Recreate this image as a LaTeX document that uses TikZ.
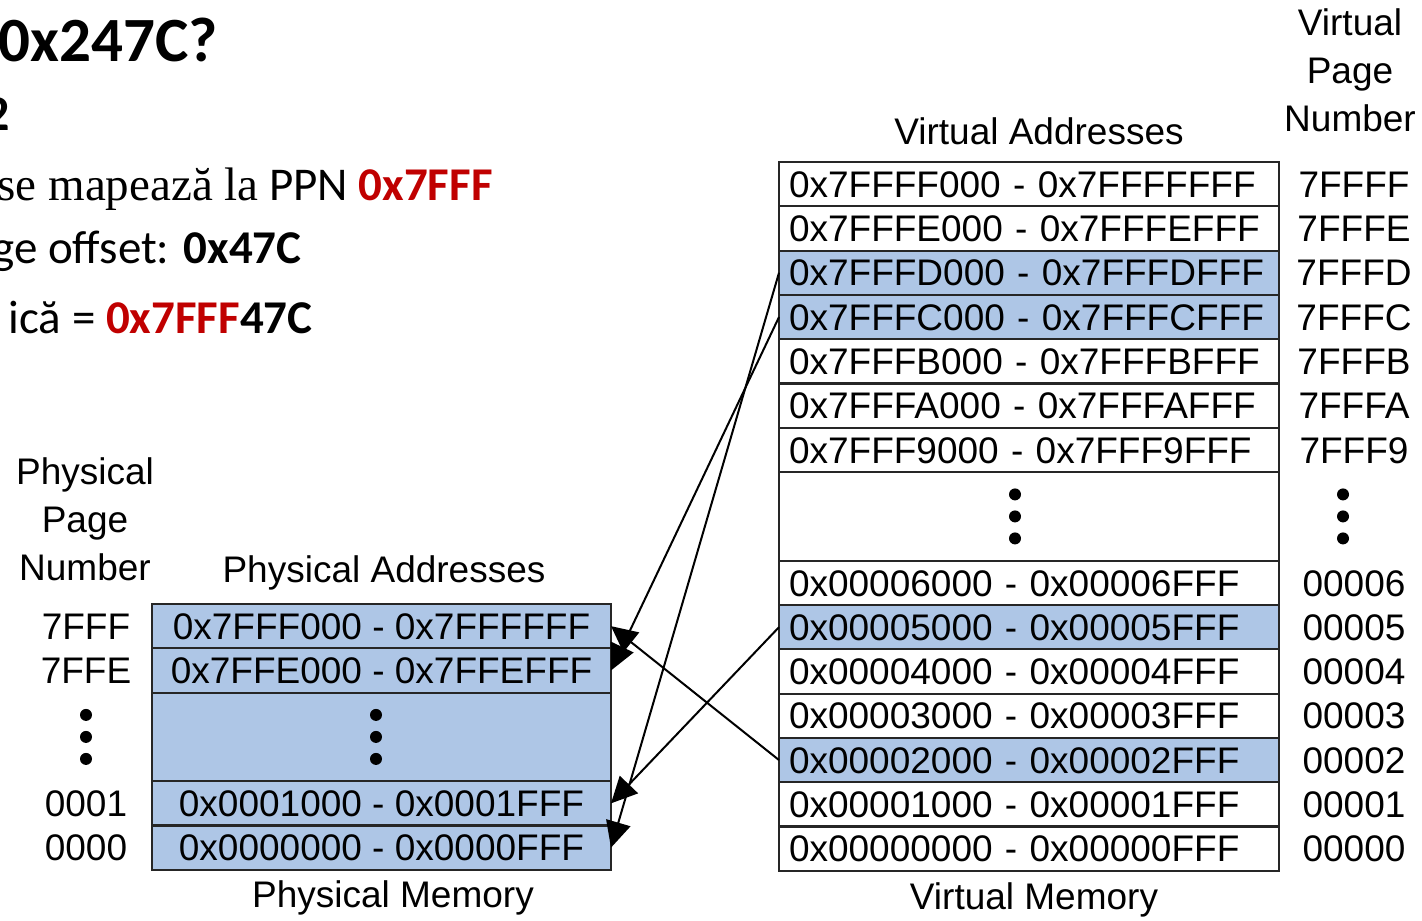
\documentclass[tikz,border=0pt]{standalone}
\usepackage{fontspec}
\setmainfont{Liberation Sans}
\newfontfamily\slidefont{Carlito}
\newfontfamily\slideserif{Liberation Serif}
\usepackage{tikz}
\usetikzlibrary{positioning,arrows.meta}

\definecolor{pageblue}{RGB}{174,198,230}
\definecolor{slidered}{RGB}{192,0,0}

\begin{document}
\begin{tikzpicture}[
    x=0.5pt, y=-0.5pt,
    every node/.style={font=\fontsize{18.5}{24}\selectfont},
    vrow/.style={draw=black!85, line width=1.1pt, outer sep=0pt, minimum width=250pt, minimum height=22.15pt,
        text width=240pt, align=left, inner xsep=0pt, inner ysep=0pt, text height=13.2pt, text depth=0pt},
    prow/.style={draw=black!85, line width=1.1pt, outer sep=0pt, fill=pageblue, minimum width=229.5pt,
        minimum height=22.15pt, inner ysep=0pt, text height=13.2pt, text depth=0pt},
    used/.style={fill=pageblue},
    num/.style={inner sep=0pt, text height=13.2pt, text depth=0pt},
    head/.style={align=center, inner sep=0pt},
    slide/.style={anchor=base east, inner sep=0pt, font=\slidefont\fontsize{23.5}{28}\selectfont},
    mapping/.style={-{Triangle[length=13pt, width=12.5pt]}, line width=1pt, black}
    ]
        \useasboundingbox (0,0) rectangle (1422,920);
        \clip (0,0) rectangle (1422,920);

        %Question text
        \node[slide, font=\slidefont\bfseries\fontsize{31.5}{36}\selectfont]
            (q1) at (218,62) {0x247C?};
        \node[slide, font=\slidefont\bfseries\fontsize{25}{30}\selectfont]
            (q2) at (10,130) {2};
        \node[slide] (q3) at (493,200) {{\slideserif se mapează la} PPN \textbf{\color{slidered}0x7FFF}};
        \node[slide] (q4) at (302,263) {ge offset: \textbf{0x47C}};
        \node[slide] (q5) at (313,333) {ică = \textbf{{\color{slidered}0x7FFF}47C}};

        %Virtual memory
        \node[vrow]                       (v7FFFF) at (1029,184.15) {0x7FFFF000 - 0x7FFFFFFF};
        \node[vrow, below=0pt of v7FFFF]       (v7FFFE) {0x7FFFE000 - 0x7FFFEFFF};
        \node[vrow, used, below=0pt of v7FFFE] (v7FFFD) {0x7FFFD000 - 0x7FFFDFFF};
        \node[vrow, used, below=0pt of v7FFFD] (v7FFFC) {0x7FFFC000 - 0x7FFFCFFF};
        \node[vrow, below=0pt of v7FFFC]       (v7FFFB) {0x7FFFB000 - 0x7FFFBFFF};
        \node[vrow, below=0pt of v7FFFB]       (v7FFFA) {0x7FFFA000 - 0x7FFFAFFF};
        \node[vrow, below=0pt of v7FFFA]       (v7FFF9) {0x7FFF9000 - 0x7FFF9FFF};
        \node[vrow, below=0pt of v7FFF9, minimum height=44.3pt] (vgap) {};
        \node[vrow, below=0pt of vgap]         (v00006) {0x00006000 - 0x00006FFF};
        \node[vrow, used, below=0pt of v00006] (v00005) {0x00005000 - 0x00005FFF};
        \node[vrow, below=0pt of v00005]       (v00004) {0x00004000 - 0x00004FFF};
        \node[vrow, below=0pt of v00004]       (v00003) {0x00003000 - 0x00003FFF};
        \node[vrow, used, below=0pt of v00003] (v00002) {0x00002000 - 0x00002FFF};
        \node[vrow, below=0pt of v00002]       (v00001) {0x00001000 - 0x00001FFF};
        \node[vrow, below=0pt of v00001]       (v00000) {0x00000000 - 0x00000FFF};

        %Virtual page numbers
        \coordinate (vcol) at (1354,0);
        \node[num] (n7FFFF) at (v7FFFF -| vcol) {7FFFF};
        \node[num] (n7FFFE) at (v7FFFE -| vcol) {7FFFE};
        \node[num] (n7FFFD) at (v7FFFD -| vcol) {7FFFD};
        \node[num] (n7FFFC) at (v7FFFC -| vcol) {7FFFC};
        \node[num] (n7FFFB) at (v7FFFB -| vcol) {7FFFB};
        \node[num] (n7FFFA) at (v7FFFA -| vcol) {7FFFA};
        \node[num] (n7FFF9) at (v7FFF9 -| vcol) {7FFF9};
        \node[num] (n00006) at (v00006 -| vcol) {00006};
        \node[num] (n00005) at (v00005 -| vcol) {00005};
        \node[num] (n00004) at (v00004 -| vcol) {00004};
        \node[num] (n00003) at (v00003 -| vcol) {00003};
        \node[num] (n00002) at (v00002 -| vcol) {00002};
        \node[num] (n00001) at (v00001 -| vcol) {00001};
        \node[num] (n00000) at (v00000 -| vcol) {00000};

        %Physical memory
        \node[prow]                      (p7FFF) at (381.5,626.15) {0x7FFF000 - 0x7FFFFFF};
        \node[prow, below=0pt of p7FFF]  (p7FFE) {0x7FFE000 - 0x7FFEFFF};
        \node[prow, below=0pt of p7FFE, minimum height=44.3pt] (pgap) {};
        \node[prow, below=0pt of pgap]   (p0001) {0x0001000 - 0x0001FFF};
        \node[prow, below=0pt of p0001]  (p0000) {0x0000000 - 0x0000FFF};

        %Physical page numbers
        \coordinate (pcol) at (86,0);
        \node[num] (m7FFF) at (p7FFF -| pcol) {7FFF};
        \node[num] (m7FFE) at (p7FFE -| pcol) {7FFE};
        \node[num] (m0001) at (p0001 -| pcol) {0001};
        \node[num] (m0000) at (p0000 -| pcol) {0000};

        %Dots
        \coordinate (vdotcol) at (1343,0);
        \coordinate (vgapdots) at ([xshift=-7pt]vgap.center);
        \coordinate (pgapdots) at ([xshift=-2.75pt]pgap.center);
        \coordinate (vnumdots) at (vgap -| vdotcol);
        \coordinate (pnumdots) at (pgap -| pcol);
        \foreach \spot in {vgapdots, pgapdots, vnumdots, pnumdots} {
            \foreach \dy in {-11,0,11}
                \fill[black] ([yshift=\dy pt]\spot) circle (3pt);
        }

        %Headings
        \node[head] (vpnhead) at (1350,70)  {Virtual\\Page\\Number};
        \node[head] (vahead)  at (1039,131) {Virtual Addresses};
        \node[head] (vmem)    at (1034,900) {Virtual Memory};
        \node[head] (ppnhead) at (85,519)   {Physical\\Page\\Number};
        \node[head] (pahead)  at (384,573)  {Physical Addresses};
        \node[head] (pmem)    at (393,898)  {Physical Memory};

        %Mappings
        \draw[mapping] (v7FFFD.west) -- (p0000.east);
        \draw[mapping] (v7FFFC.west) -- (p7FFE.east);
        \draw[mapping] (v00005.west) -- (p0001.east);
        \draw[mapping] (v00002.west) -- (p7FFF.east);
    \end{tikzpicture}
\end{document}
